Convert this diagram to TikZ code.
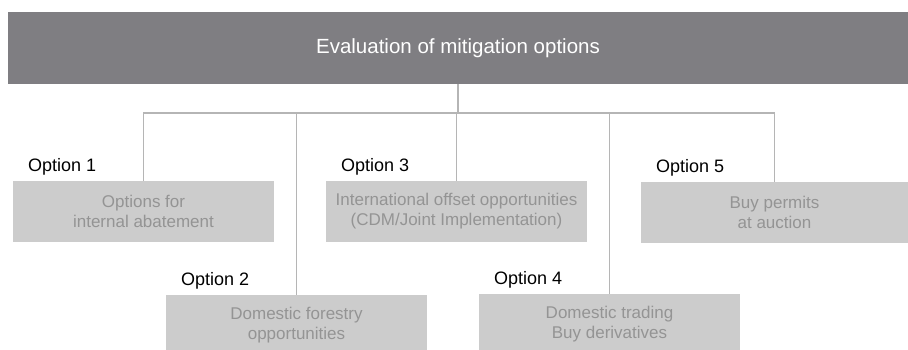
\documentclass[tikz,border=0pt]{standalone}
\usepackage{fontspec}
\setmainfont{Liberation Sans}
\definecolor{bardark}{HTML}{7F7E82}
\definecolor{boxgrey}{HTML}{CCCCCC}
\definecolor{boxtext}{HTML}{949494}
\definecolor{linegrey}{HTML}{B5B5B5}

\begin{document}
\begin{tikzpicture}[x=1pt,y=-1pt]

      \useasboundingbox (0,0) rectangle (908,350);
      \clip (0,0) rectangle (908,350);

      \node[fill=bardark, text=white, minimum width=900pt, minimum height=72pt,
            font=\fontsize{20.5}{24}\selectfont] (top) at (458,48) {Evaluation of mitigation options};

      \begin{scope}[every node/.style={fill=boxgrey, text=boxtext, align=center, inner sep=0pt,
                    minimum width=261pt, minimum height=61pt, font=\fontsize{17}{20}\selectfont}]
        \node (1) at (143.5,211.5) {Options for\\internal abatement};
        \node (2) at (296.5,325.5) {Domestic forestry\\opportunities};
        \node (3) at (456.5,211.5) {International offset opportunities\\(CDM/Joint Implementation)};
        \node (4) at (609.5,324.5) {Domestic trading\\Buy derivatives};
        \node[minimum width=267pt] (5) at (774.5,212.5) {Buy permits\\at auction};
      \end{scope}

      \begin{scope}[every node/.style={anchor=base west, inner sep=0pt, font=\fontsize{18}{20}\selectfont}]
        \node (o1) at ([xshift=15pt,yshift=9.5pt]1.north west) {Option 1};
        \node (o2) at ([xshift=15pt,yshift=9.5pt]2.north west) {Option 2};
        \node (o3) at ([xshift=15pt,yshift=9.5pt]3.north west) {Option 3};
        \node (o4) at ([xshift=15pt,yshift=9.5pt]4.north west) {Option 4};
        \node (o5) at ([xshift=15pt,yshift=9.5pt]5.north west) {Option 5};
      \end{scope}

      \coordinate (hub) at (458,113);

      \begin{scope}[every path/.style={draw=linegrey, line width=1.1pt}]
        \path (top) -- (hub);
        \path (hub) -| (1);
        \path (hub) -| (2);
        \path (hub) -| (3);
        \path (hub) -| (4);
        \path (hub) -| (5);
      \end{scope}

    \end{tikzpicture}
\end{document}
